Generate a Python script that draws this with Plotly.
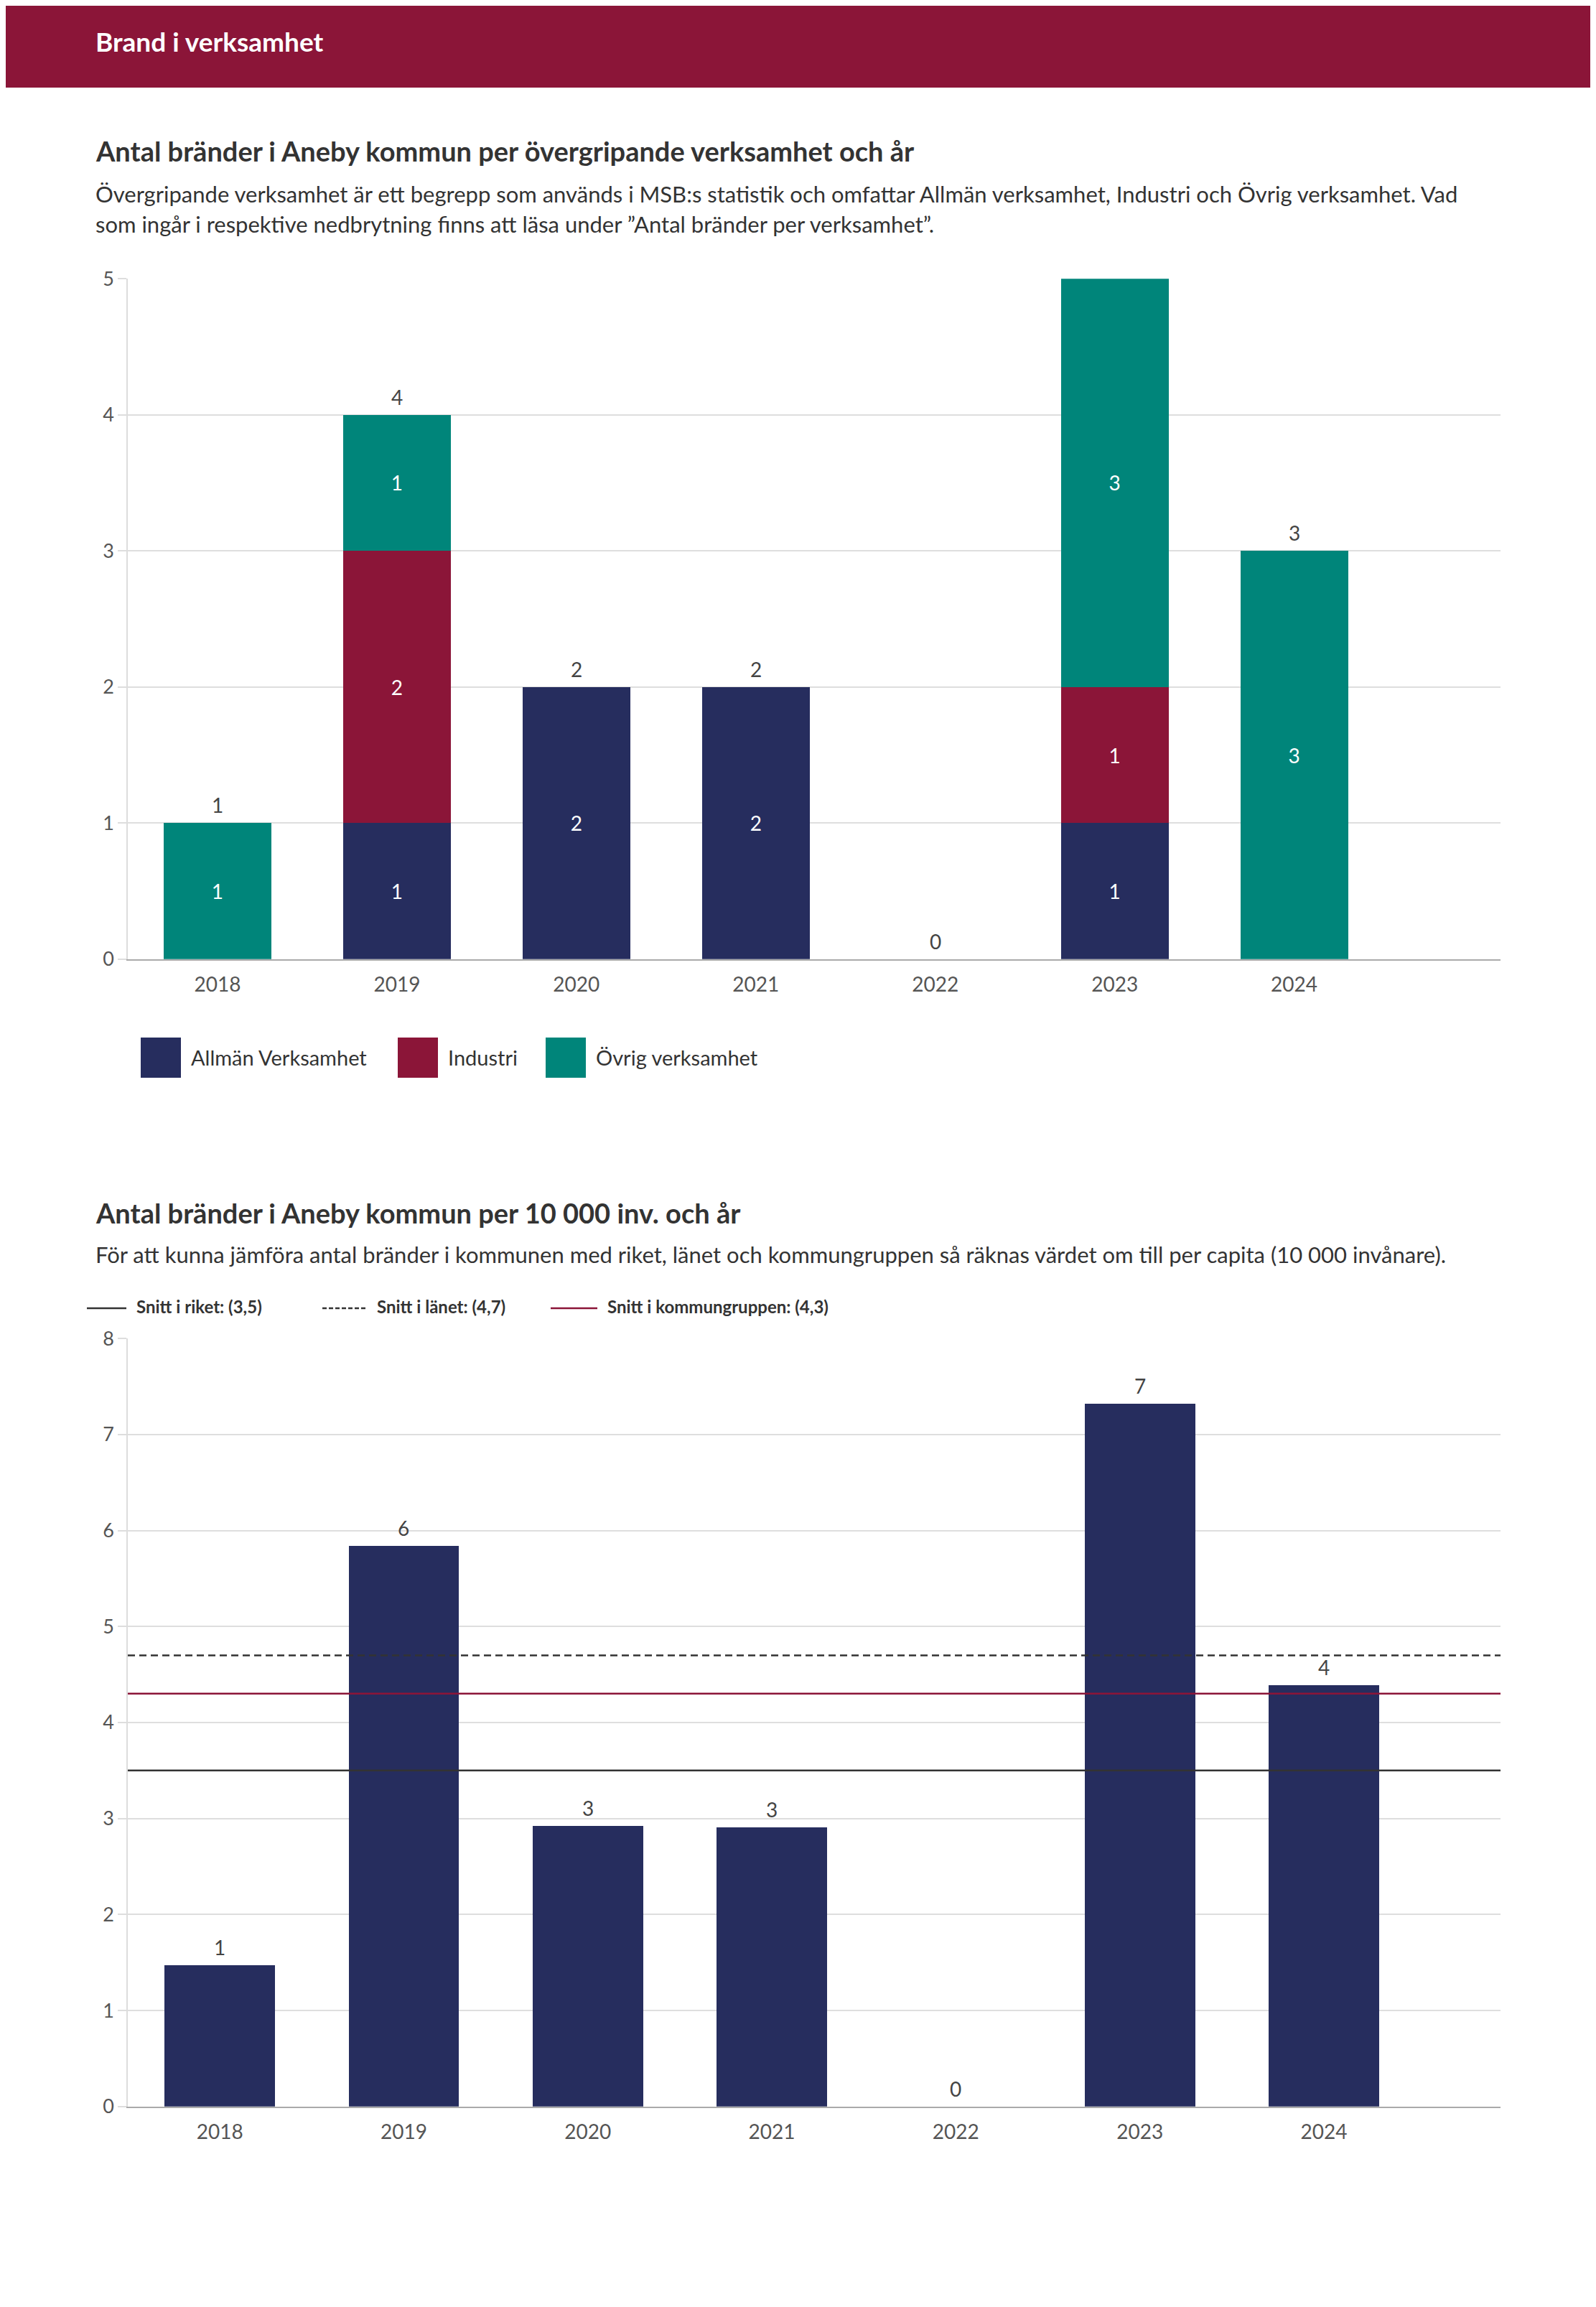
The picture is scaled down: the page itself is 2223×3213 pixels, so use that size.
import plotly.graph_objects as go

# screenshot mapping measured on earlier renders: x_screen = 8 + x, y_screen = 26 + 0.989 * y
OX, OY, SY = 8, 26, 0.989
W, H = 2207, 3177

# chart 1: antal bränder per övergripande verksamhet
years = ["2018", "2019", "2020", "2021", "2022", "2023", "2024"]
allman = [0, 1, 2, 2, 0, 1, 0]
industri = [0, 2, 0, 0, 0, 1, 0]
ovrig = [1, 1, 0, 0, 0, 3, 3]

# chart 2: antal bränder per 10 000 inv.
per_10000 = [1.47, 5.84, 2.92, 2.91, 0, 7.32, 4.39]
snitt_riket = 3.5
snitt_lanet = 4.7
snitt_kommungrupp = 4.3

NAVY = "#262d5e"
CRIMSON = "#8b1538"
TEAL = "#00857a"
FONT = "Lato"
TXT = "#333333"
TICK = "#555555"
Y1_MAX, Y2_MAX = 5, 8


def px(x):
    return (x - OX) / W


def py(y):
    return 1 - ((y - OY) / SY) / H


def seg_text(vals):
    return [str(v) if v else "" for v in vals]


totals = [a + b + c for a, b, c in zip(allman, industri, ovrig)]

fig = go.Figure()

for name, vals, col in [("Allmän Verksamhet", allman, NAVY),
                        ("Industri", industri, CRIMSON),
                        ("Övrig verksamhet", ovrig, TEAL)]:
    fig.add_trace(go.Bar(x=years, y=vals, name=name, marker_color=col,
                         marker_line_width=0, width=0.6,
                         text=seg_text(vals), textposition="inside",
                         insidetextanchor="middle",
                         textfont=dict(color="white", size=28, family=FONT),
                         xaxis="x", yaxis="y", showlegend=False))

fig.add_trace(go.Bar(x=years, y=per_10000, marker_color=NAVY, marker_line_width=0,
                     width=0.6, xaxis="x2", yaxis="y2", showlegend=False))

# value labels above the bars (category index on the x axis);
# a total sitting on the top edge is dropped like in the original
for i, t in enumerate(totals):
    if t < Y1_MAX:
        fig.add_annotation(x=i, y=t, xref="x", yref="y", text=str(t), showarrow=False,
                           yanchor="bottom", yshift=6,
                           font=dict(color="#444444", size=28, family=FONT))
for i, v in enumerate(per_10000):
    fig.add_annotation(x=i, y=v, xref="x2", yref="y2", text=str(round(v)), showarrow=False,
                       yanchor="bottom", yshift=6,
                       font=dict(color="#444444", size=28, family=FONT))

# reference lines
lines = [(snitt_riket, "#333333", "solid", "Snitt i riket"),
         (snitt_lanet, "#333333", "10px,6px", "Snitt i länet"),
         (snitt_kommungrupp, CRIMSON, "solid", "Snitt i kommungruppen")]
for val, col, dash, _ in lines:
    fig.add_shape(type="line", xref="x2 domain", yref="y2", x0=0, x1=1, y0=val, y1=val,
                  line=dict(color=col, width=2.5, dash=dash), layer="above")

axis_common = dict(showgrid=False, showline=True, linecolor="#aaaaaa", linewidth=2,
                   tickfont=dict(size=28, color=TICK, family=FONT),
                   ticks="", ticklabelstandoff=10, type="category", fixedrange=True)
yaxis_common = dict(showgrid=True, gridcolor="#dedede", gridwidth=1.5, dtick=1,
                    showline=True, linecolor="#dddddd", linewidth=1.5,
                    ticks="outside", ticklen=12, tickcolor="#dddddd", tickwidth=1.5,
                    tickfont=dict(size=27, color=TICK, family=FONT),
                    zeroline=False, fixedrange=True)

fig.update_layout(
    width=W, height=H,
    margin=dict(l=0, r=0, t=0, b=0),
    paper_bgcolor="white", plot_bgcolor="white",
    barmode="stack", bargap=0.4,
    font=dict(family=FONT, color=TXT),
    showlegend=False,
    xaxis=dict(domain=[px(178), px(2090)], anchor="y", range=[-0.5, 7.15], **axis_common),
    yaxis=dict(domain=[py(1335), py(388)], anchor="x", range=[0, Y1_MAX], **yaxis_common),
    xaxis2=dict(domain=[px(178), px(2090)], anchor="y2", range=[-0.5, 6.96], **axis_common),
    yaxis2=dict(domain=[py(2932), py(1863)], anchor="x2", range=[0, Y2_MAX], **yaxis_common),
)

# header band
fig.add_shape(type="rect", xref="paper", yref="paper", x0=-0.01, x1=1.01, y0=py(122), y1=1.02,
              fillcolor=CRIMSON, line_width=0, layer="below")

texts = [
    ("Brand i verksamhet", 131, 57, 37, "white", True),
    ("Antal bränder i Aneby kommun per övergripande verksamhet och år", 131, 210, 38, TXT, True),
    ("Övergripande verksamhet är ett begrepp som används i MSB:s statistik och omfattar "
     "Allmän verksamhet, Industri och Övrig verksamhet. Vad", 131, 270, 31, TXT, False),
    ("som ingår i respektive nedbrytning finns att läsa under ”Antal bränder per verksamhet”.",
     131, 312, 31, TXT, False),
    ("Antal bränder i Aneby kommun per 10 000 inv. och år", 131, 1688, 38, TXT, True),
    ("För att kunna jämföra antal bränder i kommunen med riket, länet och kommungruppen "
     "så räknas värdet om till per capita (10 000 invånare).", 131, 1746, 31, TXT, False),
]
for t, x, y, s, c, b in texts:
    fig.add_annotation(text=f"<b>{t}</b>" if b else t, xref="paper", yref="paper",
                       x=px(x), y=py(y), xanchor="left", yanchor="middle", showarrow=False,
                       font=dict(size=s, color=c, family=FONT))

# legend chart 1 (big squares)
leg1 = [("Allmän Verksamhet", NAVY, 196), ("Industri", CRIMSON, 554), ("Övrig verksamhet", TEAL, 760)]
for name, col, x0 in leg1:
    fig.add_shape(type="rect", xref="paper", yref="paper", x0=px(x0), x1=px(x0 + 56),
                  y0=py(1500), y1=py(1444), fillcolor=col, line_width=0)
    fig.add_annotation(text=name, xref="paper", yref="paper", x=px(x0 + 68), y=py(1472),
                       xanchor="left", yanchor="middle", showarrow=False,
                       font=dict(size=29, color=TXT, family=FONT))

# legend chart 2 (lines)
leg2_x = [(121, 176), (449, 511), (767, 832)]
for (val, col, dash, name), (x0, x1) in zip(lines, leg2_x):
    fig.add_shape(type="line", xref="paper", yref="paper", x0=px(x0), x1=px(x1),
                  y0=py(1821), y1=py(1821),
                  line=dict(color=col, width=2.5, dash="6px,3px" if dash != "solid" else "solid"))
    label = f"{name}: ({str(val).replace('.', ',')})"
    fig.add_annotation(text=f"<b>{label}</b>", xref="paper", yref="paper", x=px(x1 + 12),
                       y=py(1818), xanchor="left", yanchor="middle", showarrow=False,
                       font=dict(size=24, color=TXT, family=FONT))

fig.write_html("out.html")
